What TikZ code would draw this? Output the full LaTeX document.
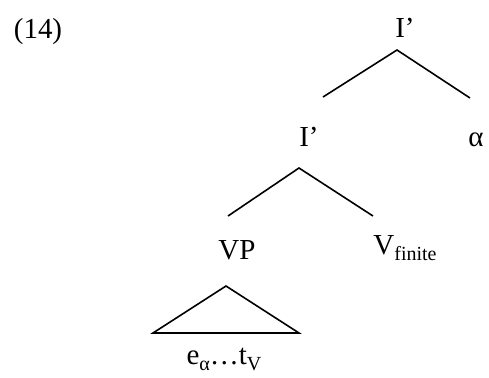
\documentclass[tikz,border=0pt]{standalone}
\usepackage{fontspec}
\setmainfont{Liberation Serif}
\usetikzlibrary{positioning,calc}

\newcommand{\lowsub}[1]{\raisebox{-0.45ex}{\fontsize{10}{11}\selectfont #1}}

\begin{document}
\begin{tikzpicture}[x=0.5pt, y=-0.5pt,
  lbl/.style={inner sep=0pt, font=\fontsize{14.5}{17}\selectfont},
  branch/.style={line width=0.8pt}
]
\useasboundingbox (0,0) rectangle (489,377);

% Labels
\node[lbl] (ex)    at (38,32)   {(14)};
\node[lbl] (itop)  at (405,28)  {I’};
\node[lbl] (imid)  at (309,137) {I’};
\node[lbl] (alpha) at (476,140) {α};
\node[lbl] (vp)    at (237,250) {VP};
\node[lbl, anchor=west] (vfin) at (373,248) {V\lowsub{finite}};
\node[lbl] (yield) at (224,359) {e\lowsub{α}…t\lowsub{V}};

% Branch points
\coordinate (top)  at (397,50);
\coordinate (topl) at (323,97);
\coordinate (topr) at (470,98);
\coordinate (mid)  at (299,168);
\coordinate (midl) at (228,216);
\coordinate (midr) at (373,216);
\coordinate (tri)  at (226,286);
\coordinate (tril) at (153,333);
\coordinate (trir) at (299,333);

% Branches
\draw[branch] (topl) -- (top) -- (topr);
\draw[branch] (midl) -- (mid) -- (midr);
\draw[branch] (tri) -- (tril) -- (trir) -- cycle;
\end{tikzpicture}
\end{document}
